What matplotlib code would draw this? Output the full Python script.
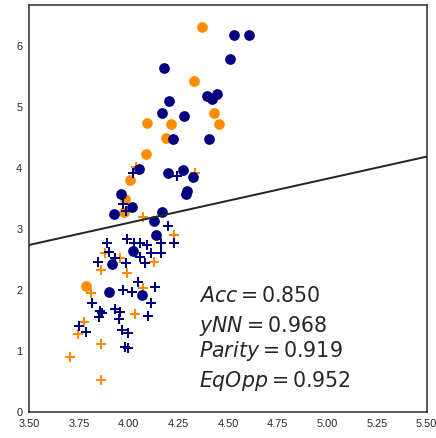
import matplotlib
matplotlib.use("Agg")
import matplotlib.pyplot as plt

# Navy circles
navy_circ_x = [4.532, 4.607, 4.510, 4.180, 4.396, 4.443, 4.421, 4.201, 4.166, 4.280,
               4.225, 4.404, 4.050, 4.200, 4.272, 4.326, 4.295, 4.287, 3.961, 3.926,
               4.015, 4.166, 4.128, 4.138, 4.023, 3.914, 3.903, 4.065]
navy_circ_y = [6.186, 6.186, 5.787, 5.639, 5.180, 5.219, 5.131, 5.098, 4.913, 4.863,
               4.475, 4.486, 3.984, 3.918, 3.973, 3.863, 3.628, 3.579, 3.574, 3.246,
               3.361, 3.284, 3.137, 2.902, 2.645, 2.426, 1.973, 1.923]

# Orange circles
orange_circ_x = [4.371, 4.331, 4.091, 4.215, 4.431, 4.455, 4.186, 4.089, 4.007, 3.983,
                 3.977, 3.784]
orange_circ_y = [6.322, 5.437, 4.738, 4.721, 4.902, 4.727, 4.497, 4.230, 3.809, 3.492,
                 3.284, 2.071]

# Navy plus
navy_plus_x = [3.973, 3.987, 4.023, 4.242, 4.196, 3.893, 3.990, 4.027, 4.057, 4.094,
               4.163, 4.228, 3.903, 4.112, 4.163, 3.844, 3.987, 4.057, 4.082, 4.047,
               4.131, 3.970, 4.017, 4.111, 3.816, 3.856, 3.864, 3.852, 3.933, 3.958,
               3.953, 4.099, 3.750, 3.785, 3.965, 3.998, 3.983, 3.997, 3.931]
navy_plus_y = [3.415, 3.306, 3.918, 3.880, 3.059, 2.780, 2.846, 2.780, 2.780, 2.743,
               2.780, 2.770, 2.630, 2.607, 2.607, 2.464, 2.443, 2.541, 2.443, 2.141,
               2.059, 2.005, 1.977, 1.797, 1.797, 1.666, 1.623, 1.557, 1.689, 1.649,
               1.524, 1.579, 1.415, 1.321, 1.349, 1.305, 1.075, 1.049, 2.536]

# Orange plus
orange_plus_x = [4.035, 4.334, 3.987, 4.070, 4.228, 3.879, 3.956, 3.861, 3.990, 4.127,
                 3.812, 4.074, 4.030, 3.775, 3.747, 3.861, 3.705, 3.859]
orange_plus_y = [4.027, 3.918, 3.497, 3.197, 2.907, 2.607, 2.525, 2.333, 2.279, 2.469,
                 1.951, 2.033, 1.611, 1.485, 1.279, 1.120, 0.911, 0.530]

# Decision boundary
line_x = [3.5, 5.5]
line_y = [2.743, 4.19]

metric_lines = ["$Acc = 0.850$", "$yNN = 0.968$", "$Parity = 0.919$", "$EqOpp = 0.952$"]
metric_y = [1.813, 1.321, 0.911, 0.419]

x_ticks = [3.50, 3.75, 4.00, 4.25, 4.50, 4.75, 5.00, 5.25, 5.50]
y_ticks = [0, 1, 2, 3, 4, 5, 6]

plt.rcParams['font.family'] = ['Liberation Sans', 'DejaVu Sans']
plt.rcParams['mathtext.fontset'] = 'dejavusans'

fig = plt.figure(figsize=(436 / 72, 438 / 72), dpi=72)
ax = fig.add_axes([0.0672, 0.0587, 0.9787 - 0.0672, 0.9893 - 0.0587])

navy = '#000080'
orange = '#ff8c00'
ax.scatter(orange_circ_x, orange_circ_y, s=115, c=orange, marker='o', linewidths=0, zorder=2)
ax.scatter(orange_plus_x, orange_plus_y, s=90, c=orange, marker='+', linewidths=2, zorder=2)
ax.scatter(navy_circ_x, navy_circ_y, s=115, c=navy, marker='o', linewidths=0, zorder=2)
ax.scatter(navy_plus_x, navy_plus_y, s=90, c=navy, marker='+', linewidths=2, zorder=2)

ax.plot(line_x, line_y, color='#262626', linewidth=2, zorder=3)

for txt, ty in zip(metric_lines, metric_y):
    ax.text(4.352, ty, txt, fontsize=20.5, color='#262626', va='baseline', ha='left', zorder=4)

ax.set_xlim(3.5, 5.5)
ax.set_ylim(0, 6.68)
ax.set_xticks(x_ticks)
ax.set_xticklabels([f"{t:.2f}" for t in x_ticks])
ax.set_yticks(y_ticks)
ax.tick_params(length=0, labelsize=11, colors='#262626', pad=7)
for sp in ax.spines.values():
    sp.set_color('#262626')
    sp.set_linewidth(1.5)

fig.savefig('out.png', dpi=72)
